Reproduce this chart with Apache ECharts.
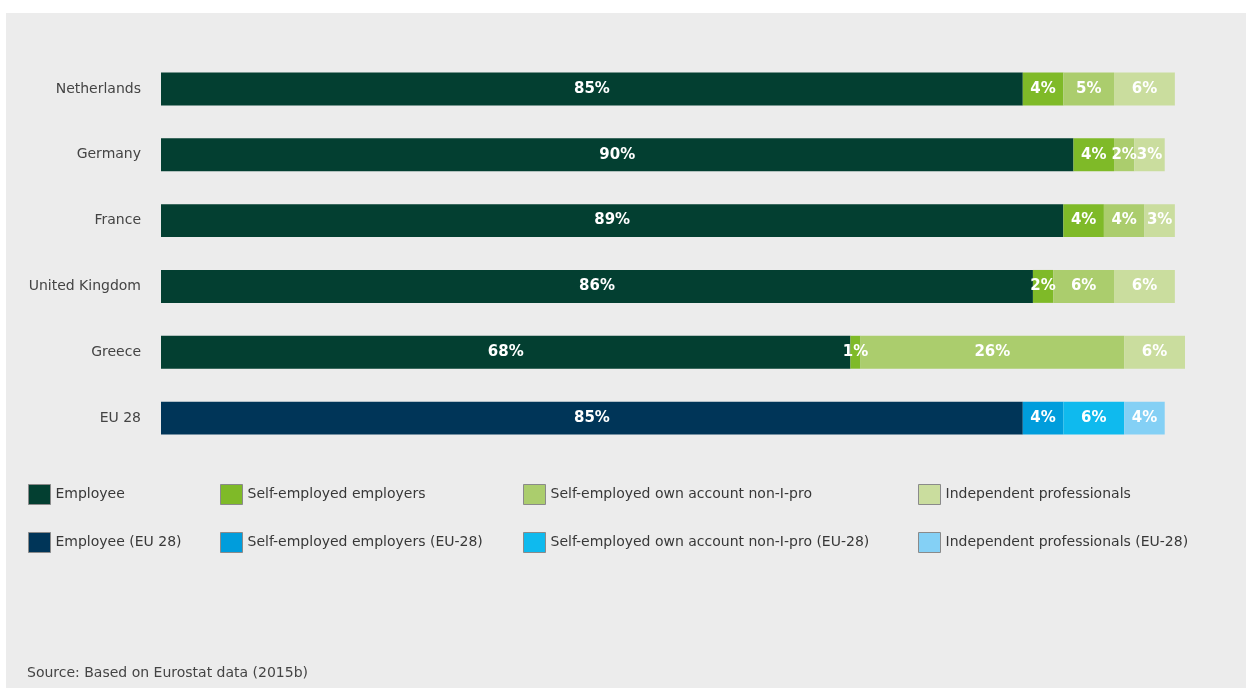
<!DOCTYPE html>
<html>
<head>
<meta charset="utf-8">
<script src="https://cdn.jsdelivr.net/npm/echarts@6/dist/echarts.min.js"></script>
<style>
  html, body { margin: 0; padding: 0; background: #ffffff; }
  #chart { position: absolute; left: 6px; top: 13px; width: 1240px; height: 675px; background: #ececec; }
</style>
</head>
<body>
<div id="chart"></div>
<script>
// Employment status shares by country (%)
const countries = ['Netherlands', 'Germany', 'France', 'United Kingdom', 'Greece', 'EU 28'];

const employee      = [85, 90, 89, 86, 68];
const selfEmployers = [4, 4, 4, 2, 1];
const ownAccount    = [5, 2, 4, 6, 26];
const independent   = [6, 3, 3, 6, 6];

const euEmployee      = [85];
const euSelfEmployers = [4];
const euOwnAccount    = [6];
const euIndependent   = [4];

const seriesNames = [
  'Employee', 'Self-employed employers', 'Self-employed own account non-I-pro', 'Independent professionals',
  'Employee (EU 28)', 'Self-employed employers (EU-28)', 'Self-employed own account non-I-pro (EU-28)', 'Independent professionals (EU-28)'
];
const colors = ['#033f31', '#7fba28', '#abcd6d', '#cadd9e', '#003558', '#009ddc', '#0fbaee', '#84d0f5'];

const FONT = 'DejaVu Sans';

// country rows carry the green series, the EU row carries the blue series
const countryRows = v => v.concat(['-']);
const euRow = v => ['-', '-', '-', '-', '-'].concat(v);

const seriesData = [
  countryRows(employee), countryRows(selfEmployers), countryRows(ownAccount), countryRows(independent),
  euRow(euEmployee), euRow(euSelfEmployers), euRow(euOwnAccount), euRow(euIndependent)
];

const series = seriesNames.map((name, i) => ({
  name: name,
  type: 'bar',
  stack: 'total',
  barCategoryGap: '50%',
  data: seriesData[i],
  itemStyle: { color: colors[i] },
  label: {
    show: true,
    position: 'inside',
    formatter: p => p.value + '%',
    color: '#ffffff',
    fontFamily: FONT,
    fontWeight: 'bold',
    fontSize: 15
  },
  emphasis: { disabled: true }
}));

// legend positions: two rows of four entries
const legendLefts = [22, 214, 517, 912];
const legendTops = [471, 519];
const legends = seriesNames.map((name, i) => ({
  data: [name],
  left: legendLefts[i % 4],
  top: legendTops[Math.floor(i / 4)],
  padding: 0,
  itemWidth: 22,
  itemHeight: 20,
  icon: 'rect',
  itemStyle: { borderColor: '#8a8a8a', borderWidth: 1 },
  textStyle: { fontFamily: FONT, fontSize: 14, color: '#383838' },
  selectedMode: false
}));

const chart = echarts.init(document.getElementById('chart'));
chart.setOption({
  animation: false,
  backgroundColor: '#ececec',
  grid: { left: 155, top: 43, width: 1024, height: 395 },
  xAxis: {
    type: 'value', min: 0, max: 101,
    show: false
  },
  yAxis: {
    type: 'category',
    data: countries,
    inverse: true,
    axisLine: { show: false },
    axisTick: { show: false },
    axisLabel: { margin: 20, color: '#444444', fontFamily: FONT, fontSize: 14 }
  },
  legend: legends,
  graphic: [{
    type: 'text',
    left: 21,
    top: 653,
    style: { text: 'Source: Based on Eurostat data (2015b)', fill: '#444444', font: '14px "DejaVu Sans"' }
  }],
  series: series
});
</script>
</body>
</html>
